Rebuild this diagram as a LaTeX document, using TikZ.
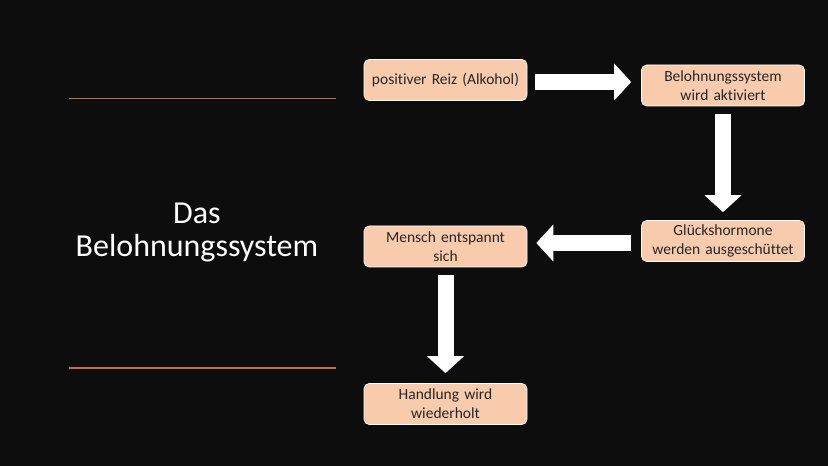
\documentclass[tikz,border=0pt]{standalone}
\usepackage{fontspec}
\setmainfont{Carlito}[Ligatures=NoCommon]
\usetikzlibrary{arrows.meta}
\definecolor{slidebg}{HTML}{0D0D0D}
\definecolor{peach}{HTML}{F8CBAD}
\definecolor{rulecol}{HTML}{C0704A}
\definecolor{boxtext}{HTML}{262626}
\tikzset{
  stepbox/.style={draw=white, line width=0.6pt, fill=peach, rounded corners=5pt,
    minimum width=163pt, minimum height=41pt, text width=155pt, align=center,
    text=boxtext, font=\fontsize{15.5}{19}\selectfont, inner sep=2pt},
  blockarrow/.style={draw=white, line width=16pt,
    -{Triangle[length=17pt,width=36pt]}},
  titlerule/.style={fill=rulecol}
}
\begin{document}
\begin{tikzpicture}[x=1pt,y=1pt]
                \fill[slidebg] (0,0) rectangle (828,466);
                \useasboundingbox (0,0) rectangle (828,466);
                % title and rules
                \fill[titlerule] (69,366.8) rectangle (336,368.2);
                \fill[titlerule] (69,97.3) rectangle (336,98.7);
                \node[text=white, align=center, font=\fontsize{32}{33}\selectfont] (title) at (197,234) {Das\\Belohnungssystem};
                % boxes
                \node[stepbox] (reiz) at (445.5,386) {positiver Reiz (Alkohol)};
                \node[stepbox] (system) at (723,380.5) {Belohnungssystem\\wird aktiviert};
                \node[stepbox] (hormone) at (723,225) {Glückshormone\\werden ausgeschüttet};
                \node[stepbox] (mensch) at (445.5,219.5) {Mensch entspannt\\sich};
                \node[stepbox] (handlung) at (445.5,62) {Handlung wird\\wiederholt};
                % arrows
                \draw[blockarrow, shorten <=8pt, shorten >=10pt] ([yshift=-2pt]reiz.east) -- ([yshift=-2pt]reiz.east -| system.west);
                \draw[blockarrow, shorten <=8pt, shorten >=8pt] (system.south) -- (hormone.north);
                \draw[blockarrow, shorten <=10pt, shorten >=9pt] ([yshift=-2pt]hormone.west) -- ([yshift=-2pt]hormone.west -| mensch.east);
                \draw[blockarrow, shorten <=8pt, shorten >=10pt] (mensch.south) -- (handlung.north);
            \end{tikzpicture}
\end{document}
